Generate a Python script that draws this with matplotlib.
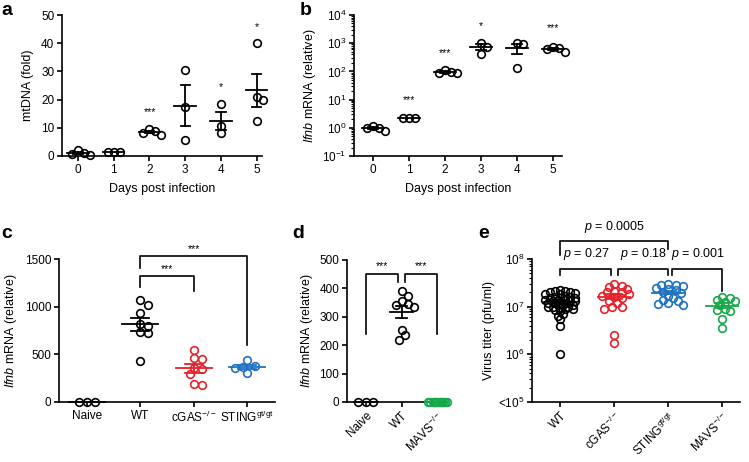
import numpy as np
import matplotlib
matplotlib.use('Agg')
import matplotlib.pyplot as plt
from matplotlib.ticker import LogLocator, NullFormatter

plt.rcParams['font.family'] = ['Liberation Sans', 'DejaVu Sans']
plt.rcParams['mathtext.fontset'] = 'custom'
plt.rcParams['mathtext.rm'] = 'Liberation Sans'
plt.rcParams['mathtext.it'] = 'Liberation Sans:italic'
plt.rcParams['mathtext.bf'] = 'Liberation Sans:bold'
plt.rcParams['axes.linewidth'] = 1.2
plt.rcParams['xtick.major.width'] = 1.2
plt.rcParams['ytick.major.width'] = 1.2
plt.rcParams['xtick.major.size'] = 3.5
plt.rcParams['ytick.major.size'] = 3.5
plt.rcParams['ytick.minor.width'] = 0.8
plt.rcParams['ytick.minor.size'] = 2
plt.rcParams['xtick.labelsize'] = 8.5
plt.rcParams['ytick.labelsize'] = 8.5
plt.rcParams['axes.labelsize'] = 9

# ---- data ----
days = [0, 1, 2, 3, 4, 5]
mtdna = [[2.3, 1.0, 0.8, 0.4], [1.5, 1.5, 1.5], [9.5, 8.8, 8.3, 7.6],
         [30.5, 17.5, 5.5], [18.5, 10.5, 8.0], [40, 21, 20, 12.5]]
mtdna_stars = ['', '', '***', '', '*', '*']
mtdna_star_y = [0, 0, 13.8, 0, 22.7, 44]

ifnb_days = [[1.15, 1.0, 0.95, 0.8], [2.3, 2.3, 2.3], [110, 92, 88, 85],
             [1050, 750, 420], [1000, 900, 135], [720, 650, 600, 480]]
ifnb_stars = ['', '***', '***', '*', '', '***']
ifnb_star_y = [1, 6.5, 300, 2800, 1, 2300]

c_groups = ['Naive', 'WT', r'cGAS$^{\mathrm{-/-}}$', r'STING$^{\mathrm{gt/gt}}$']
c_vals = [[0, 0, 0],
          [1070, 1020, 930, 820, 800, 730, 720, 430],
          [550, 460, 450, 360, 350, 290, 190, 175],
          [440, 380, 370, 360, 305]]

d_groups = ['Naive', 'WT', r'MAVS$^{\mathrm{-/-}}$']
d_vals = [[0, 0, 0],
          [390, 375, 355, 345, 340, 335, 255, 235, 220],
          [0, 0, 0, 0, 0, 0, 0, 0, 0, 0, 0, 0, 0, 0]]

e_groups = ['WT', r'cGAS$^{\mathrm{-/-}}$', r'STING$^{\mathrm{gt/gt}}$', r'MAVS$^{\mathrm{-/-}}$']
e_vals = [[2.2e7, 2.1e7, 2.1e7, 2.0e7, 2.0e7, 1.9e7, 1.8e7, 1.8e7, 1.7e7, 1.6e7,
           1.6e7, 1.5e7, 1.5e7, 1.5e7, 1.4e7, 1.4e7, 1.4e7, 1.3e7, 1.3e7, 1.3e7,
           1.2e7, 1.2e7, 1.2e7, 1.2e7, 1.1e7, 1.1e7, 1.1e7, 1.0e7, 1.0e7, 1.0e7,
           9.5e6, 9e6, 9e6, 8.5e6, 8e6, 7e6, 6.5e6, 5.5e6, 4e6, 1e6],
          [3.0e7, 2.7e7, 2.6e7, 2.4e7, 2.1e7, 2.0e7, 2.0e7, 1.8e7, 1.7e7, 1.6e7,
           1.5e7, 1.3e7, 1.2e7, 1.0e7, 1.0e7, 9e6, 2.5e6, 1.7e6],
          [3.0e7, 2.9e7, 2.8e7, 2.7e7, 2.5e7, 2.3e7, 2.2e7, 2.0e7, 1.9e7, 1.7e7,
           1.5e7, 1.4e7, 1.3e7, 1.2e7, 1.15e7, 1.1e7],
          [1.6e7, 1.5e7, 1.4e7, 1.3e7, 1.25e7, 1.1e7, 9e6, 8.5e6, 8e6, 5.5e6, 3.5e6]]

RED = '#e8202a'
BLUE = '#1f72c2'
GREEN = '#16a84a'

W, H = 749, 462
fig = plt.figure(figsize=(W / 100, H / 100), dpi=100)


def box(l, r, top, bottom):
    return fig.add_axes([l / W, 1 - bottom / H, (r - l) / W, (bottom - top) / H])


def swarm(ax, x0, vals, gap=7.0, step=3.0, kmax=6):
    pix = ax.transData.transform(np.column_stack([np.full(len(vals), x0), vals]))
    placed = []
    for px, py in pix:
        best, best_d = px, -1
        done = False
        for k in range(kmax + 1):
            for s in ([0] if k == 0 else [k, -k]):
                cx = px + s * step
                d = min([np.hypot(cx - qx, py - qy) for qx, qy in placed], default=1e9)
                if d >= gap:
                    best, done = cx, True
                    break
                if d > best_d:
                    best, best_d = cx, d
            if done:
                break
        placed.append((best, py))
    return ax.transData.inverted().transform(np.array(placed))[:, 0]


def dots(ax, x0, vals, color, w, cap, gap=6.0, step=3.0, kmax=6):
    v = np.array(vals, dtype=float)
    xs = swarm(ax, x0, v, gap, step, kmax)
    ax.plot(xs, v, 'o', mfc='none', mec=color, ms=5.5, mew=1.2, clip_on=False, zorder=3)
    m = v.mean()
    se = v.std(ddof=1) / np.sqrt(len(v))
    lw = 1.3
    ax.plot([x0 - w, x0 + w], [m, m], color=color, lw=lw, zorder=4, clip_on=False)
    if se > 0:
        ax.plot([x0, x0], [m - se, m + se], color=color, lw=lw, zorder=4)
        for y in (m - se, m + se):
            ax.plot([x0 - cap, x0 + cap], [y, y], color=color, lw=lw, zorder=4)


def style(ax):
    ax.spines['top'].set_visible(False)
    ax.spines['right'].set_visible(False)
    ax.tick_params(direction='out', pad=2)


def bracket(ax, x1, x2, y, y1, y2):
    ax.plot([x1, x1, x2, x2], [y1, y, y, y2], color='black', lw=1.2, clip_on=False)


# ---- panel a ----
ax = box(62, 262, 15, 156)
style(ax)
ax.set_xlim(-0.45, 5.15)
ax.set_ylim(0, 50)
ax.set_yticks([0, 10, 20, 30, 40, 50])
ax.set_xticks(days)
for d, v, s, sy in zip(days, mtdna, mtdna_stars, mtdna_star_y):
    dots(ax, d, v, 'black', 0.3, 0.13)
    if s:
        ax.text(d, sy, s, ha='center', va='bottom', fontsize=7.5)
ax.set_xlabel('Days post infection', labelpad=5)
ax.set_ylabel('mtDNA (fold)', labelpad=5)

# ---- panel b ----
ax = box(354, 562, 15, 156)
style(ax)
ax.set_yscale('log')
ax.set_xlim(-0.53, 5.25)
ax.set_ylim(0.1, 1e4)
ax.set_yticks([0.1, 1, 10, 100, 1000, 10000])
ax.set_yticklabels([r'$10^{-1}$', r'$10^{0}$', r'$10^{1}$', r'$10^{2}$', r'$10^{3}$', r'$10^{4}$'])
ax.yaxis.set_minor_locator(LogLocator(base=10, subs=np.arange(2, 10)))
ax.yaxis.set_minor_formatter(NullFormatter())
ax.set_xticks(days)
for d, v, s, sy in zip(days, ifnb_days, ifnb_stars, ifnb_star_y):
    dots(ax, d, v, 'black', 0.3, 0.13)
    if s:
        ax.text(d, sy, s, ha='center', va='bottom', fontsize=7.5)
ax.set_xlabel('Days post infection', labelpad=5)
ax.set_ylabel(r'$\it{Ifnb}$ mRNA (relative)', labelpad=3)

# ---- panel c ----
ax = box(59, 275, 259, 402)
style(ax)
ax.set_xlim(-0.53, 3.53)
ax.set_ylim(0, 1500)
ax.set_yticks([0, 500, 1000, 1500])
ax.set_xticks(range(4))
ax.set_xticklabels(c_groups)
for i, (v, col) in enumerate(zip(c_vals, ['black', 'black', RED, BLUE])):
    dots(ax, i, v, col, 0.34, 0.17, gap=7, step=4)
bracket(ax, 1, 2, 1325, 1210, 1165)
bracket(ax, 1, 3, 1532, 1406, 598)
ax.text(1.5, 1345, '***', ha='center', va='bottom', fontsize=7.5)
ax.text(2.0, 1552, '***', ha='center', va='bottom', fontsize=7.5)
ax.set_ylabel(r'$\it{Ifnb}$ mRNA (relative)', labelpad=4)

# ---- panel d ----
ax = box(347, 447, 260, 402)
style(ax)
ax.set_xlim(-0.53, 2.27)
ax.set_ylim(0, 500)
ax.set_yticks([0, 100, 200, 300, 400, 500])
ax.set_xticks(range(3))
ax.set_xticklabels(d_groups, rotation=45, ha='right', rotation_mode='anchor')
dots(ax, 0, d_vals[0], 'black', 0.33, 0.15, gap=6, step=2.5)
dots(ax, 1, d_vals[1], 'black', 0.33, 0.15, gap=6, step=3)
dots(ax, 2, d_vals[2], GREEN, 0.33, 0.15, gap=2.5, step=1.2, kmax=8)
bracket(ax, 0, 0.9, 450, 240, 424)
bracket(ax, 1.1, 2, 450, 424, 240)
ax.text(0.45, 462, '***', ha='center', va='bottom', fontsize=7.5)
ax.text(1.55, 462, '***', ha='center', va='bottom', fontsize=7.5)
ax.set_ylabel(r'$\it{Ifnb}$ mRNA (relative)', labelpad=3)

# ---- panel e ----
ax = box(532, 740, 259, 402)
style(ax)
ax.set_yscale('log')
ax.set_xlim(-0.52, 3.33)
ax.set_ylim(1e5, 1e8)
ax.set_yticks([1e5, 1e6, 1e7, 1e8])
ax.set_yticklabels([r'<$10^{5}$', r'$10^{6}$', r'$10^{7}$', r'$10^{8}$'])
ax.yaxis.set_minor_locator(LogLocator(base=10, subs=np.arange(2, 10)))
ax.yaxis.set_minor_formatter(NullFormatter())
ax.set_xticks(range(4))
ax.set_xticklabels(e_groups, rotation=45, ha='right', rotation_mode='anchor')
for i, (v, col) in enumerate(zip(e_vals, ['black', RED, BLUE, GREEN])):
    dots(ax, i, v, col, 0.3, 0.14, gap=5.5 if i else 3.5, step=2.5, kmax=6)
bracket(ax, 0, 0.95, 10 ** 7.79, 10 ** 7.66, 10 ** 7.66)
bracket(ax, 1.07, 2.0, 10 ** 7.79, 10 ** 7.66, 10 ** 7.66)
bracket(ax, 2.08, 3.0, 10 ** 7.79, 10 ** 7.66, 10 ** 7.33)
bracket(ax, 0, 2.0, 10 ** 8.38, 10 ** 8.08, 10 ** 8.2)
for x, t in [(0.5, '0.27'), (1.55, '0.18'), (2.55, '0.001')]:
    ax.text(x, 10 ** 7.93, r'$\it{p}$ = ' + t, ha='center', va='bottom', fontsize=9)
ax.text(1.0, 10 ** 8.5, r'$\it{p}$ = 0.0005', ha='center', va='bottom', fontsize=9)
ax.set_ylabel('Virus titer (pfu/ml)', labelpad=2)

# panel letters
for x, y, t in [(1, 15, 'a'), (300, 15, 'b'), (1, 238, 'c'), (292, 238, 'd'), (478, 238, 'e')]:
    fig.text(x / W, 1 - y / H, t, fontsize=14, fontweight='bold', va='baseline')

fig.savefig('out.png', dpi=100)
